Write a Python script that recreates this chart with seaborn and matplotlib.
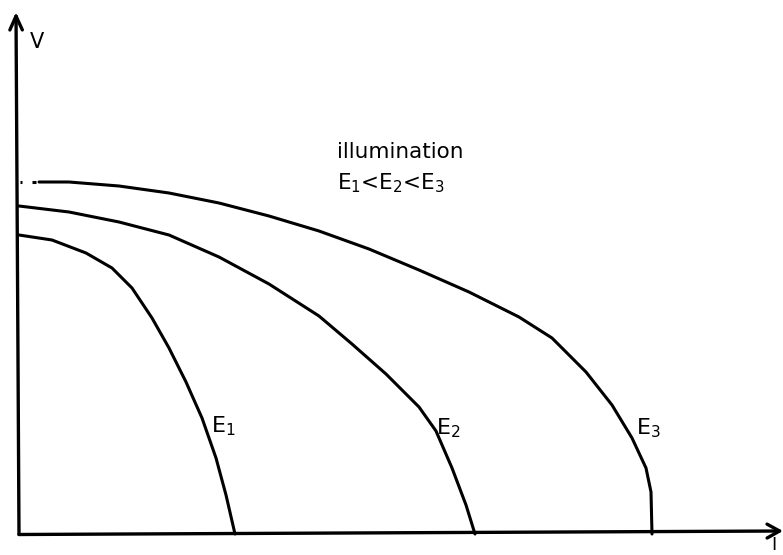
import matplotlib
matplotlib.use("Agg")
import matplotlib.pyplot as plt
import seaborn as sns
import pandas as pd

sns.set_style("white")
plt.rcParams["font.family"] = ["DejaVu Sans"]
plt.rcParams["mathtext.fontset"] = "dejavusans"
plt.rcParams["text.color"] = "black"
plt.rcParams["lines.solid_joinstyle"] = "round"
plt.rcParams["lines.solid_capstyle"] = "round"

# Current (I) and voltage (V) samples for each illumination level, arbitrary units
i_e1 = [0.00, 0.33, 0.67, 0.93, 1.13, 1.33, 1.50, 1.67, 1.83, 1.97, 2.07, 2.16]
v_e1 = [2.99, 2.94, 2.81, 2.66, 2.46, 2.16, 1.86, 1.52, 1.16, 0.76, 0.39, 0.00]

i_e2 = [0.00, 0.50, 1.00, 1.50, 2.00, 2.50, 3.00, 3.33, 3.67, 4.00, 4.17, 4.33, 4.47, 4.56]
v_e2 = [3.28, 3.22, 3.12, 2.99, 2.77, 2.50, 2.18, 1.90, 1.60, 1.27, 1.03, 0.66, 0.29, 0.00]

i_e3 = [0.20, 0.50, 1.00, 1.50, 2.00, 2.50, 3.00, 3.50, 4.00, 4.50, 5.00, 5.33,
        5.67, 5.93, 6.13, 6.27, 6.32, 6.33]
v_e3 = [3.52, 3.52, 3.48, 3.41, 3.31, 3.18, 3.03, 2.85, 2.64, 2.42, 2.17, 1.96,
        1.62, 1.29, 0.96, 0.66, 0.42, 0.00]

series = ["E1", "E2", "E3"]
frames = []
for name, ii, vv in zip(series, [i_e1, i_e2, i_e3], [v_e1, v_e2, v_e3]):
    frames.append(pd.DataFrame({"I": ii, "V": vv, "curve": name}))
df = pd.concat(frames, ignore_index=True)

fig = plt.figure(figsize=(7.83, 5.55), dpi=100)
ax = fig.add_axes([0, 0, 1, 1])
ax.set_xlim(-0.19, 7.64)
ax.set_ylim(-0.21, 5.34)
ax.axis("off")

lw = 2.2
sns.lineplot(data=df, x="I", y="V", units="curve", estimator=None, sort=False,
             color="black", linewidth=lw, ax=ax, legend=False)

# broken lead-in of the E3 curve near the V axis
ax.plot([0.01, 0.03], [v_e3[0], v_e3[0]], color="black", linewidth=lw,
        solid_capstyle="butt")
ax.plot([0.13, 0.17], [v_e3[0], v_e3[0]], color="black", linewidth=lw,
        solid_capstyle="butt")

# axes drawn as arrows
ax.annotate("", xy=(-0.03, 5.22), xytext=(0.0, -0.005),
            arrowprops=dict(arrowstyle="->,head_length=1.0,head_width=0.45",
                            color="black", lw=2.4, shrinkA=0, shrinkB=0))
ax.annotate("", xy=(7.64, 0.03), xytext=(0.0, -0.005),
            arrowprops=dict(arrowstyle="->,head_length=0.9,head_width=0.5",
                            color="black", lw=2.4, shrinkA=0, shrinkB=0))

ax.text(0.18, 4.92, "V", fontsize=15, ha="center", va="center")
ax.text(7.55, -0.115, "I", fontsize=13, ha="center", va="center")

ax.text(3.18, 3.82, "illumination", fontsize=15.5, ha="left", va="center")
ax.text(3.18, 3.51, r"E$_1$<E$_2$<E$_3$", fontsize=15.5, ha="left", va="center")

ax.text(1.92, 1.08, r"E$_1$", fontsize=16, ha="left", va="center")
ax.text(4.17, 1.06, r"E$_2$", fontsize=16, ha="left", va="center")
ax.text(6.17, 1.06, r"E$_3$", fontsize=16, ha="left", va="center")

fig.savefig("out.png", dpi=100, facecolor="white")
